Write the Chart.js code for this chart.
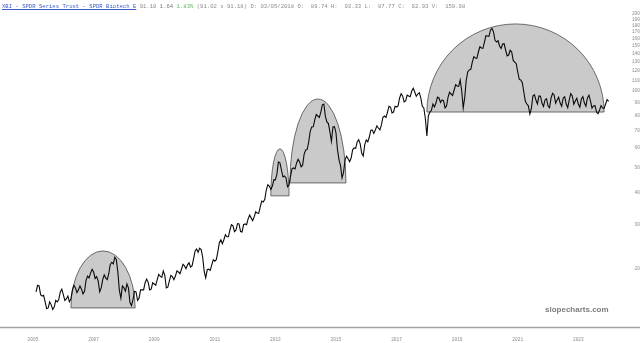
<!DOCTYPE html>
<html>
<head>
<meta charset="utf-8">
<script src="https://cdn.jsdelivr.net/npm/chart.js@4.4.1/dist/chart.umd.min.js"></script>
<style>
  html, body { margin: 0; padding: 0; background: #fff; }
  #wrap { position: relative; width: 640px; height: 343px; }
  #header {
    position: absolute; left: 2px; top: 3px;
    font: 5.6px "Liberation Mono", "DejaVu Sans Mono", monospace;
    white-space: pre; color: #8a8a8a;
  }
  #header .sym { color: #3b5bc7; text-decoration: underline; }
  #header .chg { color: #777; }
  #header .pct { color: #5cb85c; }
  #mark {
    position: absolute; left: 545px; top: 305px;
    font: bold 8px "Liberation Sans", Arial, sans-serif; color: #7d7d7d;
  }
</style>
</head>
<body>
<div id="wrap">
  <canvas id="chart" width="640" height="343"></canvas>
  <div id="header"><span class="sym">XBI - SPDR Series Trust - SPDR Biotech E</span> 91.10 <span class="chg">1.64</span> <span class="pct">1.83%</span> (91.02 x 91.18) D: 03/05/2018 O:  89.74 H:  93.33 L:  87.77 C:  92.93 V:  159.98</div>
  <div id="mark">slopecharts.com</div>
</div>
<script>
// Price history (decimal year, close)
const dates = [
  2005.1, 2005.15, 2005.2, 2005.25, 2005.3, 2005.35, 2005.4, 2005.45, 2005.5, 2005.55, 2005.6, 2005.65, 2005.7, 2005.75, 2005.8, 2005.85, 2005.9, 2005.95, 2006.0, 2006.05,
  2006.1, 2006.15, 2006.2, 2006.25, 2006.3, 2006.35, 2006.4, 2006.45, 2006.5, 2006.55, 2006.6, 2006.65, 2006.7, 2006.75, 2006.8, 2006.85, 2006.9, 2006.95, 2007.0, 2007.05,
  2007.1, 2007.15, 2007.2, 2007.25, 2007.3, 2007.35, 2007.4, 2007.45, 2007.5, 2007.55, 2007.6, 2007.65, 2007.7, 2007.75, 2007.8, 2007.85, 2007.9, 2007.95, 2008.0, 2008.05,
  2008.1, 2008.15, 2008.2, 2008.25, 2008.3, 2008.35, 2008.4, 2008.45, 2008.5, 2008.55, 2008.6, 2008.65, 2008.7, 2008.75, 2008.8, 2008.85, 2008.9, 2008.95, 2009.0, 2009.05,
  2009.1, 2009.15, 2009.2, 2009.25, 2009.3, 2009.35, 2009.4, 2009.45, 2009.5, 2009.55, 2009.6, 2009.65, 2009.7, 2009.75, 2009.8, 2009.85, 2009.9, 2009.95, 2010.0, 2010.05,
  2010.1, 2010.15, 2010.2, 2010.25, 2010.3, 2010.35, 2010.4, 2010.45, 2010.5, 2010.55, 2010.6, 2010.65, 2010.7, 2010.75, 2010.8, 2010.85, 2010.9, 2010.95, 2011.0, 2011.05,
  2011.1, 2011.15, 2011.2, 2011.25, 2011.3, 2011.35, 2011.4, 2011.45, 2011.5, 2011.55, 2011.6, 2011.65, 2011.7, 2011.75, 2011.8, 2011.85, 2011.9, 2011.95, 2012.0, 2012.05,
  2012.1, 2012.15, 2012.2, 2012.25, 2012.3, 2012.35, 2012.4, 2012.45, 2012.5, 2012.55, 2012.6, 2012.65, 2012.7, 2012.75, 2012.8, 2012.85, 2012.9, 2012.95, 2013.0, 2013.05,
  2013.1, 2013.15, 2013.2, 2013.25, 2013.3, 2013.35, 2013.4, 2013.45, 2013.5, 2013.55, 2013.6, 2013.65, 2013.7, 2013.75, 2013.8, 2013.85, 2013.9, 2013.95, 2014.0, 2014.05,
  2014.1, 2014.15, 2014.2, 2014.25, 2014.3, 2014.35, 2014.4, 2014.45, 2014.5, 2014.55, 2014.6, 2014.65, 2014.7, 2014.75, 2014.8, 2014.85, 2014.9, 2014.95, 2015.0, 2015.05,
  2015.1, 2015.15, 2015.2, 2015.25, 2015.3, 2015.35, 2015.4, 2015.45, 2015.5, 2015.55, 2015.6, 2015.65, 2015.7, 2015.75, 2015.8, 2015.85, 2015.9, 2015.95, 2016.0, 2016.05,
  2016.1, 2016.15, 2016.2, 2016.25, 2016.3, 2016.35, 2016.4, 2016.45, 2016.5, 2016.55, 2016.6, 2016.65, 2016.7, 2016.75, 2016.8, 2016.85, 2016.9, 2016.95, 2017.0, 2017.05,
  2017.1, 2017.15, 2017.2, 2017.25, 2017.3, 2017.35, 2017.4, 2017.45, 2017.5, 2017.55, 2017.6, 2017.65, 2017.7, 2017.75, 2017.8, 2017.85, 2017.9, 2017.95, 2018.0, 2018.05,
  2018.1, 2018.15, 2018.2, 2018.25, 2018.3, 2018.35, 2018.4, 2018.45, 2018.5, 2018.55, 2018.6, 2018.65, 2018.7, 2018.75, 2018.8, 2018.85, 2018.9, 2018.95, 2019.0, 2019.05,
  2019.1, 2019.15, 2019.2, 2019.25, 2019.3, 2019.35, 2019.4, 2019.45, 2019.5, 2019.55, 2019.6, 2019.65, 2019.7, 2019.75, 2019.8, 2019.85, 2019.9, 2019.95, 2020.0, 2020.05,
  2020.1, 2020.15, 2020.2, 2020.25, 2020.3, 2020.35, 2020.4, 2020.45, 2020.5, 2020.55, 2020.6, 2020.65, 2020.7, 2020.75, 2020.8, 2020.85, 2020.9, 2020.95, 2021.0, 2021.05,
  2021.1, 2021.15, 2021.2, 2021.25, 2021.3, 2021.35, 2021.4, 2021.45, 2021.5, 2021.55, 2021.6, 2021.65, 2021.7, 2021.75, 2021.8, 2021.85, 2021.9, 2021.95, 2022.0, 2022.05,
  2022.1, 2022.15, 2022.2, 2022.25, 2022.3, 2022.35, 2022.4, 2022.45, 2022.5, 2022.55, 2022.6, 2022.65, 2022.7, 2022.75, 2022.8, 2022.85, 2022.9, 2022.95, 2023.0, 2023.05,
  2023.1, 2023.15, 2023.2, 2023.25, 2023.3, 2023.35, 2023.4, 2023.45, 2023.5, 2023.55, 2023.6, 2023.65, 2023.7, 2023.75, 2023.8, 2023.85, 2023.9, 2023.95, 2024.0
];
const closes = [
  16.3, 17.3, 17.2, 15.9, 15.7, 15.8, 14.9, 14.0, 14.1, 14.9, 14.5, 13.9, 14.2, 15.1, 14.9, 15.2, 16.3, 16.7, 15.9, 15.1,
  15.3, 15.7, 14.9, 15.3, 16.6, 17.3, 16.9, 16.2, 16.6, 17.2, 16.7, 16.0, 16.4, 18.1, 18.8, 18.5, 19.3, 20.0, 19.5, 18.4,
  18.7, 18.0, 16.3, 16.9, 18.2, 19.0, 18.5, 18.2, 19.2, 20.9, 21.3, 21.0, 22.3, 21.8, 19.5, 16.5, 15.4, 17.2, 16.9, 16.4,
  17.5, 16.9, 14.8, 14.4, 15.2, 16.4, 16.3, 15.1, 15.4, 16.6, 16.6, 16.6, 17.7, 18.3, 17.8, 16.6, 16.7, 17.7, 17.5, 17.3,
  18.2, 19.1, 18.8, 18.6, 19.7, 18.9, 16.9, 17.0, 18.0, 18.9, 18.7, 18.2, 18.8, 19.7, 19.5, 19.2, 20.0, 20.9, 20.6, 20.1,
  20.8, 21.2, 20.4, 20.6, 22.0, 23.6, 24.0, 23.3, 24.2, 23.9, 22.3, 19.6, 18.5, 19.9, 20.0, 19.8, 20.8, 21.8, 21.5, 21.8,
  23.4, 25.4, 26.1, 25.2, 26.1, 27.3, 26.8, 26.8, 28.5, 29.9, 29.6, 28.1, 28.5, 30.2, 30.1, 28.1, 28.0, 29.9, 30.1, 29.9,
  31.5, 32.6, 31.8, 31.0, 32.1, 33.6, 33.2, 33.1, 35.1, 37.0, 36.7, 37.6, 40.9, 42.9, 42.4, 41.1, 42.4, 44.9, 44.8, 47.2,
  52.7, 52.3, 49.0, 46.0, 46.4, 45.6, 42.1, 42.8, 46.4, 49.6, 49.9, 49.5, 52.2, 54.0, 52.7, 50.4, 51.3, 56.6, 58.7, 59.0,
  63.1, 69.5, 72.3, 72.4, 77.0, 80.8, 79.8, 78.8, 82.7, 88.3, 88.9, 79.5, 75.6, 74.5, 69.1, 63.5, 72.3, 72.5, 68.5, 58.8,
  53.7, 51.0, 45.6, 48.0, 53.7, 55.5, 54.2, 52.8, 54.6, 58.8, 59.8, 59.6, 63.1, 64.4, 62.0, 57.0, 55.6, 61.6, 64.3, 63.2,
  66.0, 70.1, 70.3, 68.2, 70.3, 73.0, 71.6, 70.4, 73.6, 78.9, 79.8, 78.8, 82.7, 87.1, 86.5, 82.1, 82.7, 87.1, 86.5, 87.4,
  93.9, 97.5, 95.6, 90.7, 91.4, 96.3, 95.6, 94.9, 100.0, 102.5, 99.1, 95.3, 97.3, 98.5, 93.9, 87.1, 85.8, 78.0, 66.6, 80.0,
  82.7, 84.0, 88.9, 86.6, 89.7, 94.6, 93.9, 90.2, 92.2, 91.6, 85.8, 87.4, 94.7, 98.9, 97.3, 96.1, 100.9, 105.8, 104.6, 104.3,
  110.4, 100.2, 85.8, 94.4, 110.4, 119.0, 120.9, 121.5, 129.9, 136.3, 134.7, 134.2, 142.2, 149.1, 147.4, 146.9, 155.6, 164.7, 164.3, 163.7,
  173.5, 176.0, 170.4, 158.0, 155.6, 157.4, 150.1, 146.9, 152.8, 153.2, 144.8, 137.3, 138.4, 144.5, 142.2, 131.8, 129.9, 127.9, 118.7, 111.0,
  110.4, 107.7, 99.1, 91.1, 88.9, 87.5, 81.2, 85.5, 95.6, 96.7, 92.2, 89.0, 95.6, 95.4, 89.7, 87.0, 92.2, 93.3, 87.3, 86.0,
  93.9, 98.0, 96.5, 89.6, 92.2, 94.5, 89.7, 87.2, 93.9, 95.0, 88.9, 86.0, 92.2, 97.6, 95.6, 88.8, 91.4, 93.7, 88.9, 86.4,
  93.0, 95.0, 89.7, 87.2, 93.9, 96.3, 91.4, 85.7, 87.3, 87.6, 82.7, 81.5, 84.2, 87.6, 85.8, 85.5, 88.9, 92.5, 91.1
];

// Drawn domes (start year, end year, base price, top price)
const domeStart = [2006.25, 2012.85, 2013.48, 2018.0];
const domeEnd = [2008.37, 2013.45, 2015.33, 2023.85];
const domeBase = [14.1, 38.8, 43.6, 82.7];
const domeTop = [23.6, 59.3, 93.0, 183.2];

// Axis ticks
const xTicks = [2005, 2007, 2009, 2011, 2013, 2015, 2017, 2019, 2021, 2023];
const yTicks = [20, 30, 40, 50, 60, 70, 80, 90, 100, 110, 120, 130, 140, 150, 160, 170, 180, 190, 200];

const points = dates.map((d, i) => ({ x: d, y: closes[i] }));

// Gray half-ellipse domes under the price line
const domePlugin = {
    id: 'domes',
    beforeDatasetsDraw(chart) {
        const ctx = chart.ctx;
        const xs = chart.scales.x;
        const ys = chart.scales.y;
        ctx.save();
        for (let i = 0; i < domeStart.length; i++) {
            const x0 = xs.getPixelForValue(domeStart[i]);
            const x1 = xs.getPixelForValue(domeEnd[i]);
            const yb = ys.getPixelForValue(domeBase[i]);
            const yt = ys.getPixelForValue(domeTop[i]);
            ctx.beginPath();
            ctx.ellipse((x0 + x1) / 2, yb, (x1 - x0) / 2, yb - yt, 0, Math.PI, 2 * Math.PI);
            ctx.closePath();
            ctx.fillStyle = '#cacaca';
            ctx.fill();
            ctx.lineWidth = 0.8;
            ctx.strokeStyle = '#4a4a4a';
            ctx.stroke();
        }
        ctx.restore();
    },
    afterDraw(chart) {
        // bottom rule across the full width
        const ctx = chart.ctx;
        const y = Math.round(chart.chartArea.bottom) + 0.5;
        ctx.save();
        ctx.strokeStyle = '#a3a3a3';
        ctx.lineWidth = 1.3;
        ctx.beginPath();
        ctx.moveTo(0, y);
        ctx.lineTo(640, y);
        ctx.stroke();
        ctx.restore();
    }
};

const ctx = document.getElementById('chart').getContext('2d');
new Chart(ctx, {
    type: 'line',
    data: {
        datasets: [{
            data: points,
            borderColor: '#0a0a0a',
            borderWidth: 1.1,
            pointRadius: 0,
            tension: 0,
            fill: false
        }]
    },
    options: {
        responsive: false,
        animation: false,
        devicePixelRatio: 1,
        layout: { padding: { top: 10, left: 0, right: 0, bottom: 0 } },
        plugins: {
            legend: { display: false },
            tooltip: { enabled: false }
        },
        scales: {
            x: {
                type: 'linear',
                min: 2003.91,
                max: 2024.21,
                grid: { display: false },
                border: { display: false },
                afterBuildTicks: (scale) => {
                    scale.ticks = xTicks.map(v => ({ value: v }));
                },
                afterFit: (scale) => { scale.height = 16; },
                ticks: {
                    autoSkip: false,
                    maxRotation: 0,
                    padding: 2,
                    color: '#8c8c8c',
                    font: { size: 4.5, family: 'Liberation Mono' },
                    callback: (v) => String(v)
                }
            },
            y: {
                type: 'logarithmic',
                position: 'right',
                min: 11.87,
                max: 207.8,
                grid: { display: false },
                border: { display: false },
                afterBuildTicks: (scale) => {
                    scale.ticks = yTicks.map(v => ({ value: v }));
                },
                afterFit: (scale) => { scale.width = 25; },
                ticks: {
                    autoSkip: false,
                    crossAlign: 'far',
                    padding: 3,
                    color: '#8c8c8c',
                    font: { size: 4.5, family: 'Liberation Mono' },
                    callback: (v) => String(v)
                }
            }
        }
    },
    plugins: [domePlugin]
});
</script>
</body>
</html>
